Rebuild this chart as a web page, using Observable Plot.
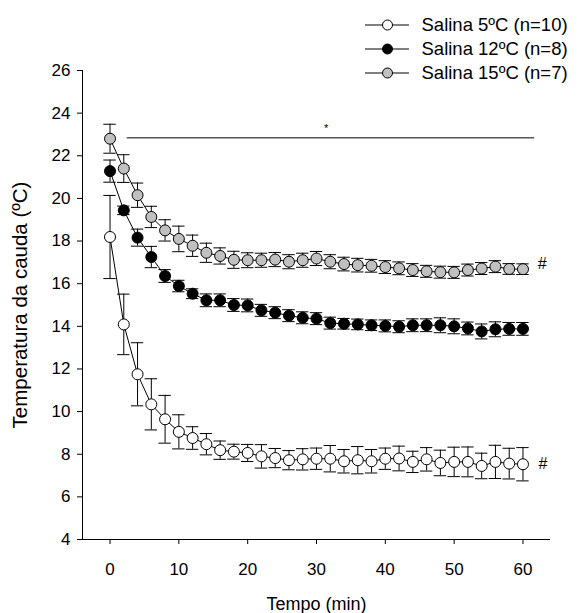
<!DOCTYPE html>
<html>
<head>
<meta charset="utf-8">
<script src="https://cdn.jsdelivr.net/npm/d3@7"></script>
<script src="https://cdn.jsdelivr.net/npm/@observablehq/plot@0.6"></script>
<style>
  body { margin: 0; background: #fff; }
  #wrap { position: relative; width: 580px; height: 613px; font-family: Arial, "Liberation Sans", sans-serif; }
  #legend { position: absolute; left: 0; top: 0; }
</style>
</head>
<body>
<div id="wrap"></div>
<script>
// ---- data ----
const tempo = [0,2,4,6,8,10,12,14,16,18,20,22,24,26,28,30,32,34,36,38,40,42,44,46,48,50,52,54,56,58,60];

const salina5 = [18.19,14.09,11.75,10.34,9.64,9.05,8.76,8.47,8.19,8.12,8.06,7.90,7.82,7.72,7.76,7.79,7.79,7.67,7.72,7.67,7.79,7.80,7.64,7.76,7.59,7.64,7.64,7.45,7.64,7.56,7.53];
const salina5Err = [1.95,1.42,1.48,1.2,1.12,0.8,0.53,0.5,0.43,0.35,0.4,0.55,0.45,0.45,0.5,0.5,0.62,0.55,0.64,0.55,0.5,0.58,0.5,0.55,0.6,0.69,0.7,0.6,0.78,0.72,0.78];

const salina12 = [21.28,19.44,18.16,17.25,16.36,15.89,15.53,15.22,15.22,15.0,14.98,14.75,14.64,14.5,14.4,14.36,14.15,14.12,14.09,14.05,14.02,13.98,14.05,14.05,14.05,14.0,13.9,13.76,13.86,13.88,13.88];
const salina12Err = [0.52,0.2,0.4,0.5,0.3,0.27,0.23,0.3,0.3,0.3,0.3,0.28,0.28,0.28,0.28,0.28,0.28,0.25,0.25,0.25,0.28,0.28,0.3,0.3,0.35,0.35,0.3,0.35,0.35,0.3,0.3];

const salina15 = [22.8,21.4,20.15,19.13,18.5,18.1,17.78,17.45,17.3,17.12,17.1,17.1,17.13,17.03,17.1,17.18,17.03,16.92,16.87,16.84,16.78,16.72,16.64,16.58,16.54,16.53,16.64,16.71,16.8,16.69,16.68];
const salina15Err = [0.68,0.65,0.57,0.5,0.5,0.6,0.5,0.45,0.38,0.4,0.35,0.33,0.33,0.33,0.33,0.33,0.33,0.32,0.32,0.3,0.3,0.3,0.3,0.28,0.28,0.28,0.28,0.28,0.28,0.25,0.25];

const seriesNames = ["Salina 5ºC (n=10)", "Salina 12ºC (n=8)", "Salina 15ºC (n=7)"];
const seriesFills = ["white", "black", "#c0c0c0"];

const xTicks = [0,10,20,30,40,50,60];
const yTicks = [4,6,8,10,12,14,16,18,20,22,24,26];
const xDomain = [-4, 64];
const yDomain = [4, 26];

// significance annotation
const sigLine = [{t1: 2.5, t2: 61.7, v: 22.84}];
const sigStar = [{t: 31.4, v: 23.28, label: "*"}];
const hashMarks = [{t: 62.8, v: 16.94, label: "#"}, {t: 62.9, v: 7.53, label: "#"}];

const xLabel = "Tempo (min)";
const yLabel = "Temperatura da cauda (ºC)";

// ---- build ----
const errs = [salina5Err, salina12Err, salina15Err];
const allSeries = [salina5, salina12, salina15].map((vals, i) => ({
  name: seriesNames[i],
  fill: seriesFills[i],
  rows: tempo.map((t, j) => ({t, v: vals[j], e: errs[i][j]}))
}));

const capHalf = 0.9;
const FONT = 'Arial, "Liberation Sans", sans-serif';

const marks = [
  Plot.ruleX([xDomain[0]], {stroke: "black"}),
  Plot.ruleY([yDomain[0]], {stroke: "black"}),
  Plot.ruleY(sigLine, {y: "v", x1: "t1", x2: "t2", stroke: "black", strokeWidth: 1}),
  Plot.text(sigStar, {x: "t", y: "v", text: "label", fontSize: 11, lineAnchor: "middle"}),
  Plot.text(hashMarks, {x: "t", y: "v", text: "label", fontSize: 16, lineAnchor: "middle"})
];

for (const s of allSeries) {
  marks.push(
    Plot.line(s.rows, {x: "t", y: "v", stroke: "black", strokeWidth: 1}),
    Plot.ruleX(s.rows, {x: "t", y1: d => d.v - d.e, y2: d => d.v + d.e, stroke: "black", strokeWidth: 1}),
    Plot.ruleY(s.rows, {y: d => d.v + d.e, x1: d => d.t - capHalf, x2: d => d.t + capHalf, stroke: "black", strokeWidth: 1}),
    Plot.ruleY(s.rows, {y: d => d.v - d.e, x1: d => d.t - capHalf, x2: d => d.t + capHalf, stroke: "black", strokeWidth: 1}),
    Plot.dot(s.rows, {x: "t", y: "v", r: 5.5, fill: s.fill, stroke: "black", strokeWidth: 1})
  );
}

marks.push(
  Plot.text([xLabel], {frameAnchor: "bottom", dy: 65, text: d => d, fontSize: 18, textAnchor: "middle", lineAnchor: "middle"}),
  Plot.text([yLabel], {frameAnchor: "left", dx: -62, rotate: -90, text: d => d, fontSize: 20.5, textAnchor: "middle", lineAnchor: "middle"})
);

const chart = Plot.plot({
  width: 580,
  height: 613,
  marginLeft: 82,
  marginRight: 30,
  marginTop: 70,
  marginBottom: 74,
  style: {fontFamily: FONT, fontSize: "17px", background: "white", color: "black", overflow: "visible"},
  x: {domain: xDomain, ticks: xTicks, tickSize: 5, tickPadding: 18, label: null},
  y: {domain: yDomain, ticks: yTicks, tickSize: 5, tickPadding: 7, label: null},
  marks
});

const wrap = document.getElementById("wrap");
wrap.appendChild(chart);

// ---- legend (SVG overlay) ----
const ns = "http://www.w3.org/2000/svg";
const leg = document.createElementNS(ns, "svg");
leg.setAttribute("id", "legend");
leg.setAttribute("width", 580);
leg.setAttribute("height", 90);
const rowY = [25, 49, 73];
allSeries.forEach((s, i) => {
  const y = rowY[i];
  const line = document.createElementNS(ns, "line");
  line.setAttribute("x1", 365); line.setAttribute("x2", 409);
  line.setAttribute("y1", y); line.setAttribute("y2", y);
  line.setAttribute("stroke", "black");
  leg.appendChild(line);
  const c = document.createElementNS(ns, "circle");
  c.setAttribute("cx", 387.5); c.setAttribute("cy", y); c.setAttribute("r", 5);
  c.setAttribute("fill", s.fill); c.setAttribute("stroke", "black");
  leg.appendChild(c);
  const tx = document.createElementNS(ns, "text");
  tx.setAttribute("x", 421.5); tx.setAttribute("y", y);
  tx.setAttribute("dy", "0.35em");
  tx.setAttribute("font-family", FONT);
  tx.setAttribute("font-size", 18.5);
  tx.textContent = s.name;
  leg.appendChild(tx);
});
wrap.appendChild(leg);
</script>
</body>
</html>
